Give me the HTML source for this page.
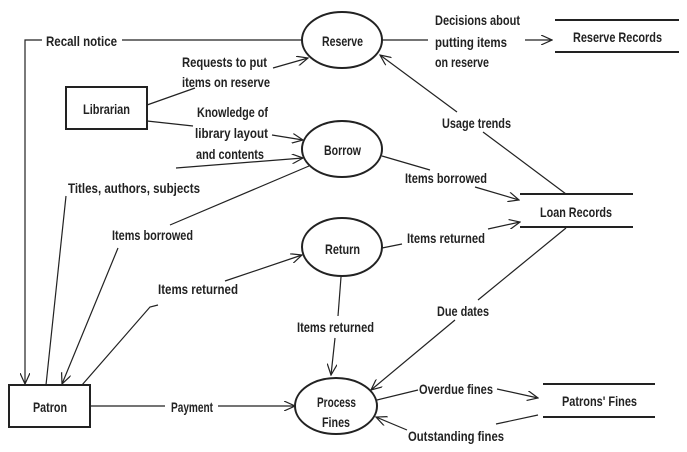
<!DOCTYPE html>
<html><head><meta charset="utf-8"><style>
body{margin:0;background:#fff}
svg{display:block}
text{font-family:"Liberation Sans Narrow","Liberation Sans",sans-serif;font-size:14px;fill:#222;font-weight:bold}
</style></head><body>
<svg width="687" height="452" viewBox="0 0 687 452" xmlns="http://www.w3.org/2000/svg">
<defs><marker id="a" markerWidth="12" markerHeight="10" refX="11" refY="5" orient="auto" markerUnits="userSpaceOnUse"><path d="M0,0 L11,5 L0,10" fill="none" stroke="#222" stroke-width="1.2"/></marker></defs>
<g fill="none" stroke="#222" stroke-width="2">
<ellipse cx="342" cy="40" rx="40" ry="28"/>
<ellipse cx="342" cy="149" rx="40" ry="28"/>
<ellipse cx="342" cy="247" rx="40" ry="29"/>
<ellipse cx="336" cy="406" rx="41" ry="28"/>
<rect x="66" y="87" width="81" height="42"/>
<rect x="9" y="385" width="81" height="42"/>
<line x1="555" y1="20" x2="679" y2="20"/><line x1="555" y1="52" x2="679" y2="52"/>
<line x1="520" y1="194" x2="633" y2="194"/><line x1="520" y1="227" x2="633" y2="227"/>
<line x1="543" y1="384" x2="655" y2="384"/><line x1="543" y1="417" x2="655" y2="417"/>
</g>
<g fill="none" stroke="#222" stroke-width="1.2">
<path d="M302,40 L122,40"/><path d="M42,40 L25,40 L25,384" marker-end="url(#a)"/>
<path d="M147,105 L195,88"/><path d="M273,68 L308,58" marker-end="url(#a)"/>
<path d="M147,121 L193,126"/><path d="M272,135 L303,140" marker-end="url(#a)"/>
<path d="M46,385 L66,196"/><path d="M176,168 L303,158" marker-end="url(#a)"/>
<path d="M309,166 L170,225"/><path d="M118,248 L62,384" marker-end="url(#a)"/>
<path d="M82,385 L150,307 L158,305"/><path d="M225,281 L302,255" marker-end="url(#a)"/>
<path d="M341,277 L338,316"/><path d="M335,338 L331,375" marker-end="url(#a)"/>
<path d="M90,406 L165,406"/><path d="M218,406 L295,406" marker-end="url(#a)"/>
<path d="M382,40 L428,40"/><path d="M525,40 L552,40" marker-end="url(#a)"/>
<path d="M566,194 L483,132"/><path d="M457,112 L380,55" marker-end="url(#a)"/>
<path d="M382,156 L430,170"/><path d="M475,187 L519,200" marker-end="url(#a)"/>
<path d="M382,248 L402,244"/><path d="M488,229 L520,222" marker-end="url(#a)"/>
<path d="M566,228 L478,300"/><path d="M455,320 L371,390" marker-end="url(#a)"/>
<path d="M377,400 L418,390"/><path d="M497,389 L538,398" marker-end="url(#a)"/>
<path d="M538,415 L496,424"/><path d="M407,430 L376,417" marker-end="url(#a)"/>
</g>
<g>
<text x="322" y="46" textLength="41" lengthAdjust="spacingAndGlyphs">Reserve</text>
<text x="324" y="155" textLength="37" lengthAdjust="spacingAndGlyphs">Borrow</text>
<text x="325" y="254" textLength="35" lengthAdjust="spacingAndGlyphs">Return</text>
<text x="317" y="407" textLength="39" lengthAdjust="spacingAndGlyphs">Process</text>
<text x="322" y="427" textLength="28" lengthAdjust="spacingAndGlyphs">Fines</text>
<text x="83" y="114" textLength="47" lengthAdjust="spacingAndGlyphs">Librarian</text>
<text x="33" y="412" textLength="34" lengthAdjust="spacingAndGlyphs">Patron</text>
<text x="573" y="42" textLength="89" lengthAdjust="spacingAndGlyphs">Reserve Records</text>
<text x="540" y="217" textLength="72" lengthAdjust="spacingAndGlyphs">Loan Records</text>
<text x="562" y="406" textLength="75" lengthAdjust="spacingAndGlyphs">Patrons' Fines</text>
<text x="46" y="46" textLength="71" lengthAdjust="spacingAndGlyphs">Recall notice</text>
<text x="182" y="67" textLength="85" lengthAdjust="spacingAndGlyphs">Requests to put</text>
<text x="182" y="87" textLength="88" lengthAdjust="spacingAndGlyphs">items on reserve</text>
<text x="197" y="117" textLength="71" lengthAdjust="spacingAndGlyphs">Knowledge of</text>
<text x="195" y="138" textLength="73" lengthAdjust="spacingAndGlyphs">library layout</text>
<text x="196" y="159" textLength="68" lengthAdjust="spacingAndGlyphs">and contents</text>
<text x="68" y="193" textLength="132" lengthAdjust="spacingAndGlyphs">Titles, authors, subjects</text>
<text x="112" y="240" textLength="81" lengthAdjust="spacingAndGlyphs">Items borrowed</text>
<text x="158" y="294" textLength="80" lengthAdjust="spacingAndGlyphs">Items returned</text>
<text x="297" y="332" textLength="77" lengthAdjust="spacingAndGlyphs">Items returned</text>
<text x="171" y="412" textLength="42" lengthAdjust="spacingAndGlyphs">Payment</text>
<text x="435" y="25" textLength="85" lengthAdjust="spacingAndGlyphs">Decisions about</text>
<text x="435" y="47" textLength="72" lengthAdjust="spacingAndGlyphs">putting items</text>
<text x="435" y="67" textLength="54" lengthAdjust="spacingAndGlyphs">on reserve</text>
<text x="442" y="128" textLength="69" lengthAdjust="spacingAndGlyphs">Usage trends</text>
<text x="405" y="183" textLength="82" lengthAdjust="spacingAndGlyphs">Items borrowed</text>
<text x="407" y="243" textLength="78" lengthAdjust="spacingAndGlyphs">Items returned</text>
<text x="437" y="316" textLength="52" lengthAdjust="spacingAndGlyphs">Due dates</text>
<text x="419" y="394" textLength="74" lengthAdjust="spacingAndGlyphs">Overdue fines</text>
<text x="408" y="441" textLength="96" lengthAdjust="spacingAndGlyphs">Outstanding fines</text>
</g>
</svg>
</body></html>
